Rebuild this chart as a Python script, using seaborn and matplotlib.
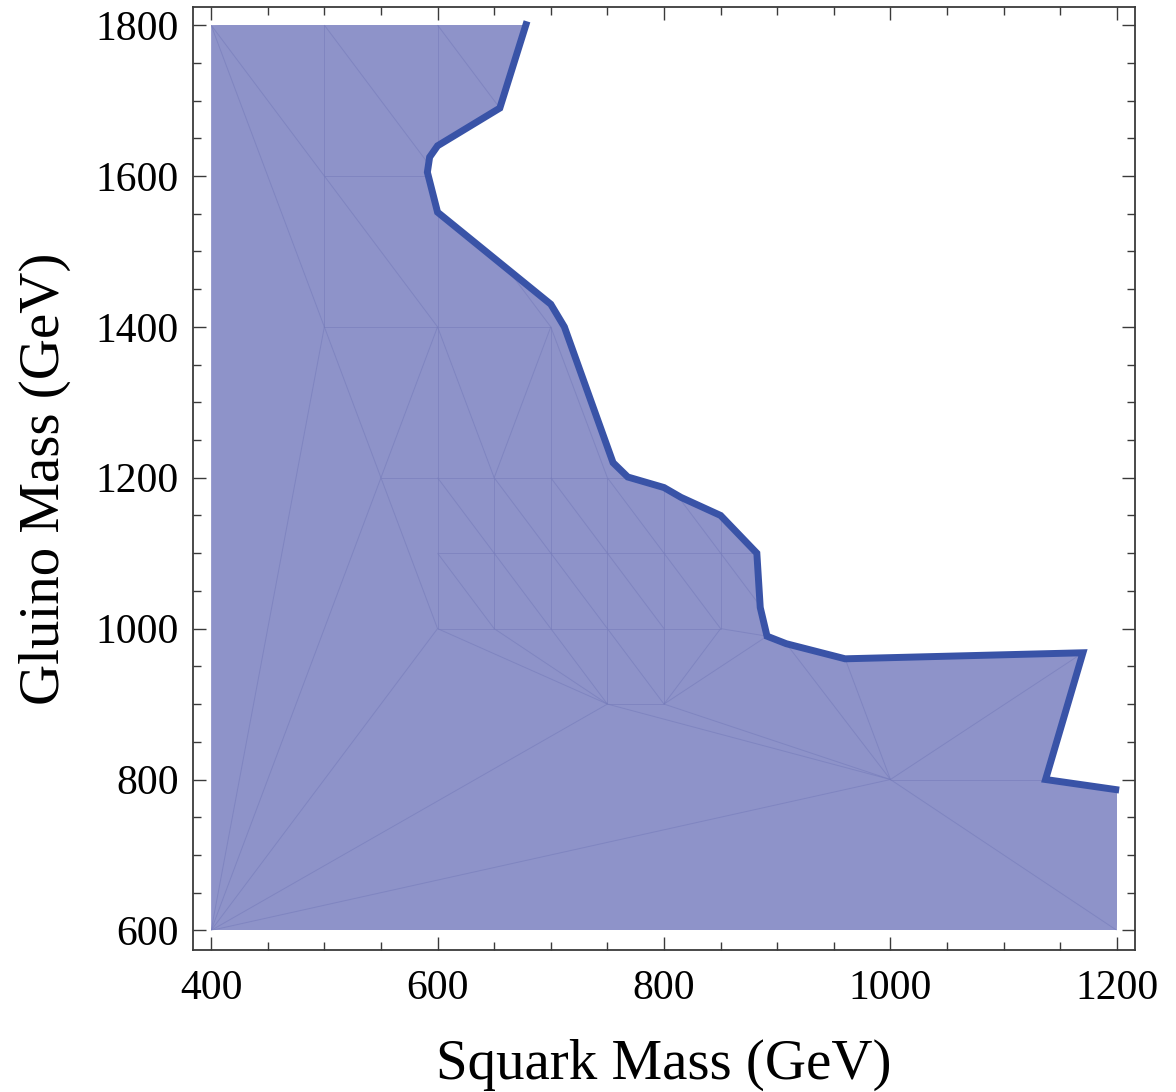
import numpy as np
import matplotlib
matplotlib.use("Agg")
import matplotlib.pyplot as plt
import seaborn as sns
from matplotlib.patches import Rectangle
from matplotlib.collections import LineCollection
from matplotlib.ticker import MultipleLocator

# ---- data ----
# exclusion boundary (squark mass, gluino mass) in GeV
boundary_squark = [679, 655, 600, 593, 591, 600, 700, 712, 755, 768, 800, 815,
                   850, 882, 885, 891, 908, 960, 1170, 1137, 1202]
boundary_gluino = [1805, 1690, 1640, 1625, 1605, 1552, 1430, 1400, 1220, 1201, 1187, 1174,
                   1150, 1100, 1028, 990, 980, 960, 968, 800, 786]

# plot region
squark_range = [400, 1200]
gluino_range = [600, 1800]

# interpolation mesh edges (start point, end point)
mesh_start = [(500, 1800), (500, 1600), (600, 1800), (600, 1600), (400, 1800), (500, 1600),
              (400, 1800), (500, 1800), (600, 1800), (600, 1600), (500, 1600), (500, 1400),
              (500, 1400), (600, 1400), (600, 1400), (600, 1400), (700, 1400), (700, 1400),
              (700, 1400), (550, 1200), (500, 1400), (550, 1200), (550, 1200),
              # grid 1000-1200
              (600, 1000), (650, 1000), (700, 1000), (750, 1000), (800, 1000), (850, 1000),
              (600, 1100), (600, 1000),
              (600, 1200), (650, 1200), (700, 1200), (750, 1200), (800, 1200),
              (600, 1100), (650, 1100), (700, 1100), (750, 1100), (800, 1100), (850, 1100),
              # lower part
              (850, 1000), (600, 1000), (650, 1000), (700, 1000), (750, 1000), (750, 1000),
              (800, 1000), (850, 1000), (891, 990), (750, 900), (600, 1000), (750, 900),
              (750, 900), (800, 900), (908, 980), (960, 960), (1170, 968), (1000, 800),
              (1000, 800), (1000, 800)]
mesh_end = [(500, 1600), (500, 1400), (600, 1600), (600, 1400), (500, 1600), (600, 1400),
            (500, 1400), (600, 1600), (700, 1600), (700, 1400), (600, 1600), (700, 1400),
            (550, 1200), (550, 1200), (600, 1200), (650, 1200), (650, 1200), (700, 1200),
            (750, 1200), (800, 1200), (400, 600), (400, 600), (600, 1000),
            (600, 1200), (650, 1200), (700, 1200), (750, 1200), (800, 1200), (850, 1200),
            (900, 1100), (850, 1000),
            (650, 1100), (700, 1100), (750, 1100), (800, 1100), (850, 1100),
            (650, 1000), (700, 1000), (750, 1000), (800, 1000), (850, 1000), (900, 1000),
            (891, 990), (750, 900), (750, 900), (750, 900), (750, 900), (800, 900),
            (800, 900), (800, 900), (800, 900), (800, 900), (400, 600), (400, 600),
            (1000, 800), (1000, 800), (1000, 800), (1000, 800), (1000, 800), (1200, 800),
            (1200, 600), (400, 600)]

x_ticks = [400, 600, 800, 1000, 1200]
y_ticks = [600, 800, 1000, 1200, 1400, 1600, 1800]

# ---- style ----
sns.set_style("white")
plt.rcParams['font.family'] = ['Liberation Serif', 'DejaVu Serif']
plt.rcParams['mathtext.fontset'] = 'stix'

fill_color = "#8E93C9"
line_color = "#3953A7"
mesh_color = "#767CBB"
frame_color = "#3a3a3a"

fig = plt.figure(figsize=(11.76, 10.92), dpi=100)
ax = fig.add_axes([193 / 1176, 1 - 950 / 1092, (1135 - 193) / 1176, (950 - 7) / 1092])

# filled region, clipped to the plot range
poly_x = [squark_range[0], squark_range[1]] + boundary_squark[::-1] + [squark_range[0]]
poly_y = [gluino_range[0], gluino_range[0]] + boundary_gluino[::-1] + [gluino_range[1]]
patch = ax.fill(poly_x, poly_y, color=fill_color, lw=0, zorder=1)[0]
clip_rect = Rectangle((squark_range[0], gluino_range[0]),
                      squark_range[1] - squark_range[0],
                      gluino_range[1] - gluino_range[0],
                      transform=ax.transData, fill=False, lw=0)
patch.set_clip_path(clip_rect)

# mesh lines, clipped to the region
segs = [[s, e] for s, e in zip(mesh_start, mesh_end)]
lc = LineCollection(segs, colors=mesh_color, linewidths=0.7, alpha=0.6, zorder=2)
ax.add_collection(lc)
lc.set_clip_path(patch)

# boundary curve
sns.lineplot(x=boundary_squark, y=boundary_gluino, sort=False, estimator=None,
             color=line_color, lw=5.0, ax=ax, zorder=3, solid_joinstyle='miter',
             solid_capstyle='butt')

ax.set_xlim(384, 1216)
ax.set_ylim(574, 1824)
ax.set_xticks(x_ticks)
ax.set_yticks(y_ticks)
ax.xaxis.set_minor_locator(MultipleLocator(50))
ax.yaxis.set_minor_locator(MultipleLocator(50))
ax.tick_params(which='both', direction='in', top=True, right=True, bottom=True, left=True,
               color=frame_color, width=1.0, labelsize=30, labelcolor='black')
ax.tick_params(which='major', length=9.5, pad=14)
ax.tick_params(which='minor', length=5.5)
ax.tick_params(axis='y', which='major', pad=10)
for sp in ax.spines.values():
    sp.set_color(frame_color)
    sp.set_linewidth(1.3)
    sp.set_visible(True)

ax.set_xlabel("Squark Mass (GeV)", fontsize=41, labelpad=22, color='black')
ax.set_ylabel("Gluino Mass (GeV)", fontsize=41, labelpad=18, color='black')

fig.savefig("out.png", dpi=100)
